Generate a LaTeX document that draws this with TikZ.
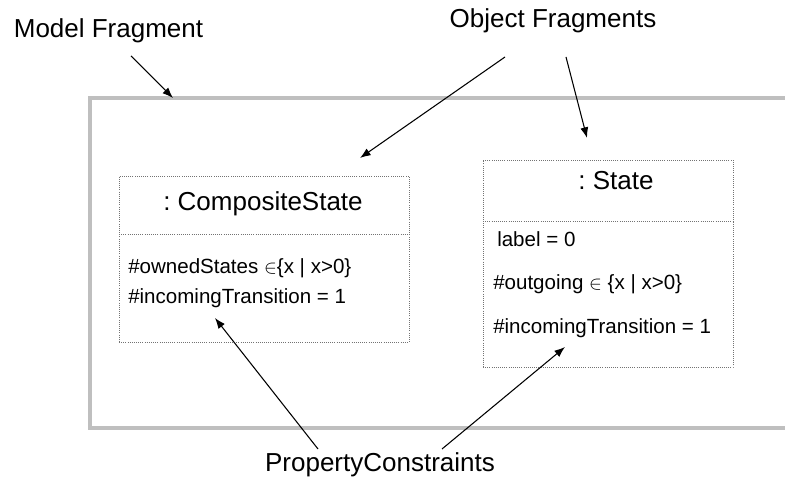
\documentclass[tikz,border=0pt]{standalone}
\usepackage{fontspec}
\setmainfont{Liberation Sans}
\usetikzlibrary{arrows.meta}
\frenchspacing
\begin{document}
\begin{tikzpicture}[x=0.75pt,y=-0.75pt,
  lbl/.style={font=\fontsize{19.5pt}{23pt}\selectfont, inner sep=0pt, anchor=base},
  hdr/.style={font=\fontsize{19.5pt}{23pt}\selectfont, inner sep=0pt, anchor=base},
  attr/.style={font=\fontsize{15.4pt}{18pt}\selectfont, inner sep=0pt, anchor=base west},
  objbox/.style={draw=black!55, densely dotted, line width=0.6pt, inner sep=0pt, rectangle},
  sep/.style={draw=black!55, densely dotted, line width=0.6pt},
  frame/.style={draw=black!25, line width=2.6pt},
  arr/.style={draw=black, line width=0.8pt, -{Latex[length=8pt,width=6pt]}}]
\useasboundingbox (0,0) rectangle (785,477);
% model fragment frame
\draw[frame] (788,98) -- (90,98) -- (90,428) -- (788,428);
% object boxes
\node[objbox, minimum width=217.5pt, minimum height=124.5pt] (cs) at (264,259) {};
\node[objbox, minimum width=187.5pt, minimum height=155.25pt] (st) at (608,263.5) {};
\coordinate (csL) at (119,234);
\coordinate (csR) at (409,234);
\coordinate (stL) at (483,221);
\coordinate (stR) at (733,221);
\draw[sep] (csL) -- (csR);
\draw[sep] (stL) -- (stR);
% headers
\node[hdr] (cshdr) at (263,211) {: CompositeState};
\node[hdr] (sthdr) at (616,190) {: State};
% attributes
\node[attr] (a1) at (128,273) {\#ownedStates $\in$\{x | x>0\}};
\node[attr] (a2) at (128,303) {\#incomingTransition = 1};
\node[attr] (b1) at (497,247) {label = 0};
\node[attr] (b2) at (493,290) {\#outgoing $\in$ \{x | x>0\}};
\node[attr] (b3) at (493,333) {\#incomingTransition = 1};
% labels
\node[lbl] (mf) at (108.5,38) {Model Fragment};
\node[lbl] (of) at (553,28) {Object Fragments};
\node[lbl] (pc) at (380,471) {PropertyConstraints};
% arrow end points
\coordinate (mfS) at (131,56);
\coordinate (mfT) at (173,98);
\coordinate (ofS1) at (505,57);
\coordinate (ofT1) at (360,158);
\coordinate (ofS2) at (566,57);
\coordinate (ofT2) at (587,138);
\coordinate (pcS1) at (318,449);
\coordinate (pcT1) at (215,318);
\coordinate (pcS2) at (442,449);
\coordinate (pcT2) at (565,347);
\draw[arr] (mfS) -- (mfT);
\draw[arr] (ofS1) -- (ofT1);
\draw[arr] (ofS2) -- (ofT2);
\draw[arr] (pcS1) -- (pcT1);
\draw[arr] (pcS2) -- (pcT2);
\end{tikzpicture}
\end{document}
